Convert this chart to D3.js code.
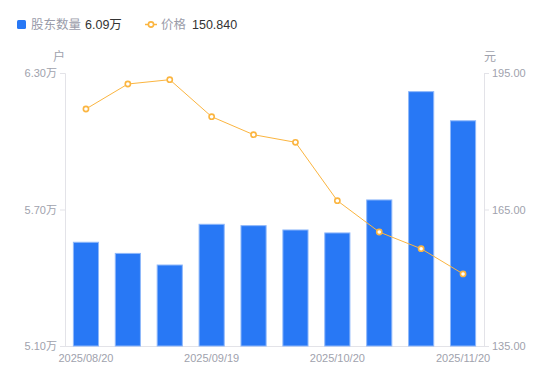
<!DOCTYPE html>
<html><head><meta charset="utf-8">
<script src="https://cdn.jsdelivr.net/npm/d3@7"></script>
<style>body{margin:0;background:#fff;}svg{display:block;font-family:"Noto Sans CJK SC","Noto Sans",sans-serif;}</style>
</head><body><svg id="c" width="550" height="381"></svg>
<script>
const categories = ["2025/08/20","2025/08/29","2025/09/10","2025/09/19","2025/09/30","2025/10/10","2025/10/20","2025/10/31","2025/11/10","2025/11/20"];
const shown = ["2025/08/20","2025/09/19","2025/10/20","2025/11/20"];
const holders = [5.556,5.507,5.456,5.635,5.629,5.610,5.597,5.742,6.218,6.09];
const price = [187.09,192.58,193.53,185.4,181.44,179.77,166.93,160.05,156.38,150.84];
const leftTicks = [5.10,5.70,6.30];
const rightTicks = [135,165,195];

const svg = d3.select("#c");
const L=65,R=484,T=73,B=346;
const x = d3.scaleBand().domain(categories).range([L,R]).paddingInner(0.4).paddingOuter(0.2);
const yL = d3.scaleLinear().domain([5.10,6.30]).range([B,T]);
const yR = d3.scaleLinear().domain([135,195]).range([B,T]);
const axisColor="#e3e3e8", textColor="#a0a2ad";
const tickFont="'Liberation Sans','Noto Sans CJK SC',sans-serif";

// axes
const gl = svg.append("g").attr("transform",`translate(${L},0)`)
  .call(d3.axisLeft(yL).tickValues(leftTicks).tickSize(5).tickPadding(3).tickFormat(d=>d.toFixed(2)+"万"));
const gr = svg.append("g").attr("transform",`translate(${R},0)`)
  .call(d3.axisRight(yR).tickValues(rightTicks).tickSize(5).tickPadding(3).tickFormat(d=>d.toFixed(2)));
const gb = svg.append("g").attr("transform",`translate(0,${B})`)
  .call(d3.axisBottom(x).tickValues(shown).tickSize(0).tickPadding(8));
[gl,gr,gb].forEach(g=>{
  g.selectAll("path,line").attr("stroke",axisColor);
  g.selectAll("text").attr("fill",textColor).style("font-size","11px").style("font-family",tickFont);
});
gb.select(".domain").attr("d",`M${L},0.5H${R}`);

svg.append("text").attr("x",59).attr("y",61).attr("text-anchor","middle").attr("fill",textColor).style("font-size","12px").text("户");
svg.append("text").attr("x",490).attr("y",61).attr("text-anchor","middle").attr("fill",textColor).style("font-size","12px").text("元");

// bars
svg.append("g").selectAll("rect").data(categories).join("rect")
  .attr("x",d=>x(d)).attr("width",x.bandwidth())
  .attr("y",(d,i)=>yL(holders[i])).attr("height",(d,i)=>B-yL(holders[i]))
  .attr("fill","#2878f5").attr("stroke","#8fb8fa").attr("stroke-width",1);

// line
const line = d3.line().x((d,i)=>x(categories[i])+x.bandwidth()/2).y(d=>yR(d));
svg.append("path").datum(price).attr("d",line).attr("fill","none").attr("stroke","#fbb540").attr("stroke-width",1);
svg.append("g").selectAll("circle").data(price).join("circle")
  .attr("cx",(d,i)=>x(categories[i])+x.bandwidth()/2).attr("cy",d=>yR(d)).attr("r",2.6)
  .attr("fill","#fff").attr("stroke","#fbb540").attr("stroke-width",1.6);

// legend
const lg = svg.append("g");
lg.append("rect").attr("x",17).attr("y",20).attr("width",9).attr("height",9).attr("rx",1.5).attr("fill","#2878f5");
lg.append("text").attr("x",31).attr("y",29).attr("fill","#9a9caa").style("font-size","12.5px").text("股东数量");
lg.append("text").attr("x",85).attr("y",29).attr("fill","#333").style("font-size","12.5px").style("font-family","'Liberation Sans','Noto Sans CJK SC',sans-serif").text(d3.format(".2f")(holders[9])+"万");
lg.append("line").attr("x1",145).attr("x2",157).attr("y1",24.5).attr("y2",24.5).attr("stroke","#fbb540").attr("stroke-width",1.5);
lg.append("circle").attr("cx",151).attr("cy",24.5).attr("r",2.6).attr("fill","#fff").attr("stroke","#fbb540").attr("stroke-width",1.6);
lg.append("text").attr("x",161).attr("y",29).attr("fill","#9a9caa").style("font-size","12.5px").text("价格");
lg.append("text").attr("x",192).attr("y",29).attr("fill","#333").style("font-size","12.5px").style("font-family","'Liberation Sans','Noto Sans CJK SC',sans-serif").text(d3.format(".3f")(price[9]));
</script></body></html>
